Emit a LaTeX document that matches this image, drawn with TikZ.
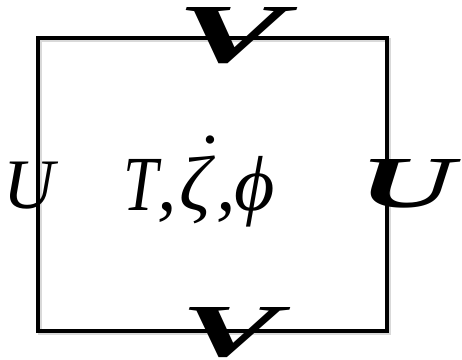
\documentclass[tikz,border=0pt]{standalone}
\usepackage{fontspec}
\setmainfont{Liberation Serif}
\begin{document}
\begin{tikzpicture}[x=1pt,y=-1pt,
  lbl/.style={inner sep=0pt,outer sep=0pt},
  frame/.style={line width=4pt,line join=miter}]
\useasboundingbox (0,0) rectangle (462,359);
\coordinate (tl) at (38,38);
\coordinate (br) at (387,331);
\draw[line width=4pt,black!25,opacity=0.6] ([shift={(2,2)}]tl) rectangle ([shift={(2,2)}]br);
\draw[frame] (tl) rectangle (br);
\node[lbl,anchor=center] (vt) at (232,36) {\resizebox{110pt}{55pt}{\bfseries\itshape V}};
\node[lbl,anchor=center] (vb) at (231,333) {\resizebox{100pt}{49pt}{\bfseries\itshape V}};
\node[lbl,anchor=base west] (ul) at (4,208) {\fontsize{71}{71}\selectfont\itshape U};
\node[lbl,anchor=center] (ur) at (408,184) {\resizebox{96pt}{48pt}{\bfseries\itshape U}};
\node[lbl,anchor=base west] (c) at (123,210) {\fontsize{78}{78}\selectfont\itshape \scalebox{0.8}[1]{T},\kern0.03em\rlap{\kern0.16em\raisebox{0.29em}{˙}}ζ\kern0.07em,\kern-0.02em ϕ};
\end{tikzpicture}
\end{document}
